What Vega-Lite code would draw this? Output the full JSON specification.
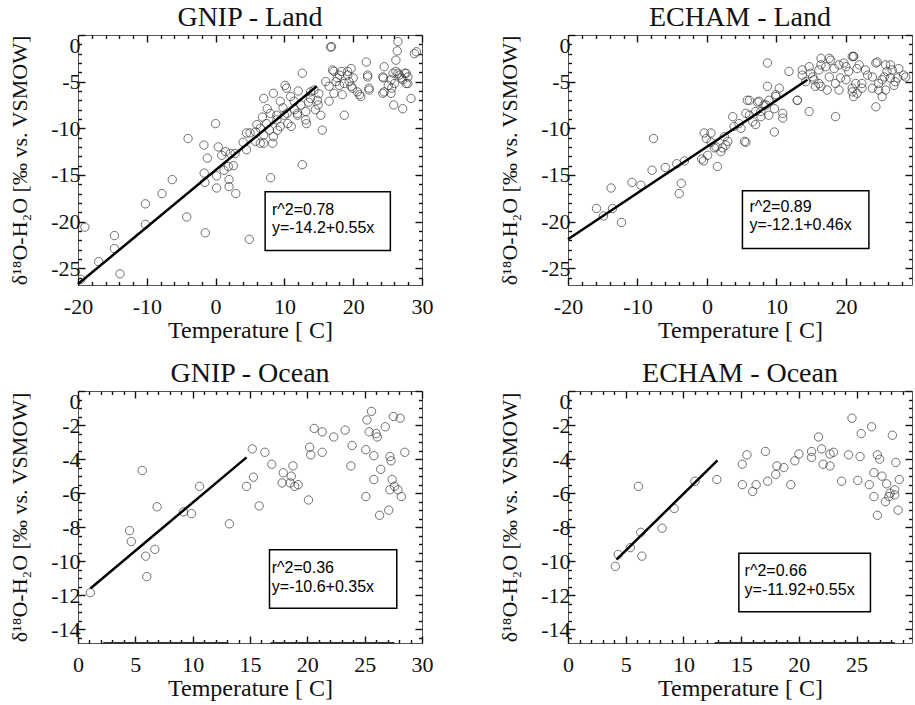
{
"$schema": "https://vega.github.io/schema/vega-lite/v6.json",
"padding": {"left": 7, "top": 3, "right": 0, "bottom": 0},
"background": "white",
"config": {
 "font": "Liberation Serif",
 "view": {"stroke": "#555", "strokeWidth": 1},
 "style": {"guide-label": {"font": "Liberation Serif", "fontSize": 22, "fill": "#111"}, "guide-title": {"font": "Liberation Serif", "fontSize": 22, "fill": "#111", "fontWeight": "normal"}},
 "axis": {"domain": false, "grid": false, "labelFont": "Liberation Serif", "labelFontSize": 22, "labelColor": "#111", "titleFont": "Liberation Serif", "titleFontSize": 22, "titleFontWeight": "normal", "titleColor": "#111", "tickColor": "#111", "tickWidth": 1.4},
 "axisBottom": {"titleFontSize": 24, "titleY": 45, "titleBaseline": "middle", "labelPadding": 18, "labelFlush": false},
 "axisLeft": {"titleX": -59, "titleBaseline": "middle", "labelPadding": 5, "labelFlush": true},
 "title": {"font": "Liberation Serif", "fontSize": 28, "fontWeight": "normal", "color": "#111", "frame": "group", "anchor": "middle", "offset": 2}
},
"bounds": "flush",
"columns": 2,
"spacing": {"row": 106, "column": 146},
"datasets": {
 "gnipLand": [
  {"T":-19.6,"d":-26.2},{"T":-19.0,"d":-20.6},{"T":-17.0,"d":-24.3},{"T":-14.7,"d":-21.5},{"T":-14.7,"d":-22.9},{"T":-13.9,"d":-25.6},{"T":-10.2,"d":-18.1},{"T":-10.2,"d":-20.3},{"T":-7.8,"d":-17.0},{"T":-6.3,"d":-15.5},{"T":-4.0,"d":-11.1},{"T":-4.2,"d":-19.5},{"T":-1.7,"d":-11.8},{"T":-1.2,"d":-13.2},{"T":-1.66,"d":-14.8},{"T":-1.56,"d":-15.8},{"T":-1.5,"d":-21.2},{"T":0.0,"d":-9.5},{"T":0.39,"d":-12.0},{"T":0.88,"d":-12.9},{"T":1.46,"d":-12.5},{"T":2.15,"d":-12.7},{"T":2.83,"d":-12.7},{"T":0.15,"d":-15.1},{"T":0.15,"d":-16.4},{"T":1.22,"d":-14.5},{"T":1.85,"d":-14.1},{"T":2.59,"d":-14.0},{"T":1.95,"d":-15.5},{"T":1.95,"d":-16.25},{"T":2.93,"d":-17.0},{"T":4.5,"d":-10.5},{"T":4.5,"d":-12.3},{"T":4.9,"d":-21.9},{"T":4.0,"d":-11.5},
  {"T":5.8,"d":-10.4},{"T":6.0,"d":-9.6},{"T":6.5,"d":-11.6},{"T":7.0,"d":-6.8},{"T":7.5,"d":-7.9},{"T":7.4,"d":-9.5},{"T":8.0,"d":-15.3},{"T":8.3,"d":-11.6},{"T":8.4,"d":-10.9},{"T":7.0,"d":-10.7},{"T":7.8,"d":-10.2},{"T":8.9,"d":-8.6},{"T":8.4,"d":-6.25},{"T":10.3,"d":-5.7},{"T":10.0,"d":-8.6},{"T":9.4,"d":-7.1},{"T":10.5,"d":-9.5},{"T":11.4,"d":-7.1},{"T":12.6,"d":-4.1},{"T":12.6,"d":-13.9},{"T":11.9,"d":-8.6},{"T":13.1,"d":-8.2},{"T":13.2,"d":-9.5},{"T":13.8,"d":-6.8},{"T":14.5,"d":-8.0},{"T":14.9,"d":-7.5},{"T":15.5,"d":-10.2},{"T":15.3,"d":-8.6},{"T":14.3,"d":-5.9},{"T":16.0,"d":-5.0},
  {"T":10.1,"d":-5.4},{"T":10.9,"d":-6.6},{"T":12.4,"d":-7.5},{"T":13.8,"d":-6.1},{"T":14.8,"d":-7.0},{"T":13.1,"d":-9.1},{"T":11.9,"d":-8.4},{"T":10.4,"d":-8.4},{"T":8.9,"d":-9.1},{"T":7.95,"d":-8.4},{"T":5.0,"d":-10.5},{"T":7.0,"d":-11.6},{"T":5.8,"d":-11.4},{"T":9.4,"d":-9.8},{"T":6.5,"d":-10.0},{"T":9.0,"d":-10.2},{"T":11.0,"d":-9.8},{"T":12.0,"d":-6.0},{"T":13.5,"d":-7.2},{"T":15.0,"d":-6.3},{"T":9.8,"d":-7.8},{"T":11.5,"d":-8.0},{"T":6.8,"d":-8.8},
  {"T":16.85,"d":-1.25},{"T":16.7,"d":-1.3},{"T":17.2,"d":-3.9},{"T":17.7,"d":-4.6},{"T":18.0,"d":-5.4},{"T":16.5,"d":-7.1},{"T":18.7,"d":-8.6},{"T":19.2,"d":-4.3},{"T":19.4,"d":-5.0},{"T":19.9,"d":-5.7},{"T":20.6,"d":-6.1},{"T":21.1,"d":-6.6},{"T":21.9,"d":-2.9},{"T":22.1,"d":-4.5},{"T":22.3,"d":-5.7},{"T":18.3,"d":-3.9},{"T":20.0,"d":-4.6},{"T":24.5,"d":-3.4},{"T":24.4,"d":-4.6},{"T":24.3,"d":-6.25},{"T":25.8,"d":-4.1},{"T":25.9,"d":-7.5},{"T":26.5,"d":-0.7},{"T":26.4,"d":-1.7},{"T":26.2,"d":-2.7},{"T":26.5,"d":-4.1},{"T":27.0,"d":-4.6},{"T":27.2,"d":-7.9},{"T":27.7,"d":-4.1},{"T":27.95,"d":-5.2},{"T":28.4,"d":-6.8},{"T":29.2,"d":-1.8},{"T":25.1,"d":-5.4},{"T":25.6,"d":-5.7},
  {"T":17.0,"d":-3.75},{"T":18.0,"d":-4.3},{"T":19.2,"d":-3.9},{"T":17.5,"d":-5.0},{"T":18.7,"d":-5.2},{"T":19.7,"d":-5.5},{"T":16.5,"d":-5.5},{"T":17.2,"d":-6.25},{"T":18.4,"d":-6.4},{"T":20.9,"d":-6.4},{"T":22.1,"d":-4.3},{"T":22.3,"d":-5.9},{"T":19.7,"d":-3.6},{"T":24.3,"d":-4.5},{"T":24.5,"d":-6.1},{"T":25.5,"d":-4.8},{"T":26.2,"d":-3.9},{"T":26.0,"d":-5.2},{"T":26.7,"d":-4.3},{"T":27.2,"d":-4.8},{"T":27.5,"d":-4.1},{"T":27.95,"d":-4.5},{"T":27.7,"d":-5.2},{"T":28.9,"d":-2.0},{"T":25.5,"d":-6.25}
 ],
 "gnipLandFit": [{"T":-20,"d":-26.7},{"T":14.7,"d":-5.5}],
 "gnipLandBox": [{"x1":7.2,"x2":25.4,"y1":-16.8,"y2":-23.1}],
 "gnipLandText": [{"T":8.2,"d":-18.75,"label":"r^2=0.78"},{"T":8.2,"d":-20.7,"label":"y=-14.2+0.55x"}],
 "echamLand": [
  {"T":-15.9,"d":-18.6},{"T":-14.9,"d":-19.4},{"T":-13.8,"d":-16.4},{"T":-13.6,"d":-18.6},{"T":-12.3,"d":-20.1},{"T":-10.8,"d":-15.8},{"T":-9.5,"d":-16.1},{"T":-7.7,"d":-11.1},{"T":-7.9,"d":-14.5},{"T":-6.0,"d":-14.2},{"T":-4.35,"d":-13.8},{"T":-3.7,"d":-15.9},{"T":-4.0,"d":-17.0},{"T":-3.25,"d":-13.5},{"T":-0.4,"d":-10.5},{"T":-0.1,"d":-11.1},{"T":-0.5,"d":-13.5},{"T":0.6,"d":-11.5},{"T":0.1,"d":-12.9},{"T":1.5,"d":-14.1},{"T":1.05,"d":-12.1},{"T":2.0,"d":-12.5},{"T":2.5,"d":-10.9},{"T":2.7,"d":-11.8},{"T":3.9,"d":-9.8},{"T":3.7,"d":-8.75},{"T":4.9,"d":-10.0},{"T":5.6,"d":-11.5},{"T":5.8,"d":-7.0},{"T":6.1,"d":-8.6},{"T":7.0,"d":-9.6},{"T":7.3,"d":-7.2},{"T":7.75,"d":-8.2},{"T":8.5,"d":-7.5},{"T":8.7,"d":-5.5},{"T":8.7,"d":-3.0},{"T":8.9,"d":-8.6},{"T":9.7,"d":-10.4},{"T":10.4,"d":-5.7},{"T":9.9,"d":-6.6},{"T":10.9,"d":-8.9},{"T":11.8,"d":-3.9},{"T":13.0,"d":-7.0},{"T":14.7,"d":-8.2},{"T":13.7,"d":-3.75},{"T":14.9,"d":-4.1},{"T":15.4,"d":-4.8},{"T":16.4,"d":-3.2},{"T":16.4,"d":-5.5},{"T":17.6,"d":-2.5},{"T":18.3,"d":-3.6},{"T":18.5,"d":-8.75},{"T":19.2,"d":-4.6},{"T":19.7,"d":-3.0},{"T":20.9,"d":-2.3},{"T":21.1,"d":-2.3},
  {"T":21.9,"d":-3.2},{"T":22.3,"d":-5.2},{"T":20.9,"d":-5.7},{"T":21.6,"d":-6.25},{"T":23.1,"d":-4.3},{"T":24.7,"d":-5.9},{"T":25.2,"d":-4.8},{"T":24.5,"d":-2.9},{"T":25.9,"d":-3.9},{"T":26.4,"d":-3.2},{"T":27.4,"d":-4.6},{"T":28.3,"d":-4.3},{"T":26.9,"d":-5.4},
  {"T":16.4,"d":-2.5},{"T":17.8,"d":-2.7},{"T":21.1,"d":-2.3},{"T":14.7,"d":-3.4},{"T":13.7,"d":-4.3},{"T":15.2,"d":-4.5},{"T":16.1,"d":-3.75},{"T":17.1,"d":-3.4},{"T":19.0,"d":-3.2},{"T":20.0,"d":-3.4},{"T":20.4,"d":-3.9},{"T":21.6,"d":-3.6},{"T":22.8,"d":-3.75},{"T":24.3,"d":-3.0},{"T":25.7,"d":-3.2},{"T":26.65,"d":-3.75},{"T":27.6,"d":-3.6},{"T":28.6,"d":-4.5},{"T":25.5,"d":-4.5},{"T":26.4,"d":-4.6},{"T":27.1,"d":-5.0},{"T":23.8,"d":-4.5},{"T":24.7,"d":-5.2},{"T":23.8,"d":-5.7},{"T":25.7,"d":-5.9},{"T":22.3,"d":-5.7},{"T":21.1,"d":-6.6},{"T":25.2,"d":-6.6},{"T":24.3,"d":-7.7},{"T":13.0,"d":-7.0},{"T":17.6,"d":-4.5},{"T":18.5,"d":-5.2},{"T":20.0,"d":-4.8},{"T":21.4,"d":-5.2},{"T":16.1,"d":-5.2},{"T":14.2,"d":-5.0},{"T":15.6,"d":-5.5},{"T":17.3,"d":-5.9},{"T":19.0,"d":-5.9},{"T":20.9,"d":-6.1},{"T":9.9,"d":-6.4},{"T":8.9,"d":-7.0},{"T":7.5,"d":-7.1},{"T":6.1,"d":-7.0},{"T":8.2,"d":-7.5},{"T":7.0,"d":-8.2},{"T":5.6,"d":-8.4},{"T":7.75,"d":-8.75},{"T":6.6,"d":-9.3},{"T":5.4,"d":-11.4},{"T":10.9,"d":-8.4},{"T":9.7,"d":-7.9},
  {"T":0.57,"d":-10.5},{"T":1.3,"d":-12.0},{"T":2.25,"d":-12.1},{"T":-0.77,"d":-13.3},{"T":4.6,"d":-9.5},{"T":3.0,"d":-11.4}
 ],
 "echamLandFit": [{"T":-20,"d":-21.9},{"T":14.45,"d":-4.8}],
 "echamLandBox": [{"x1":5.1,"x2":23.3,"y1":-16.7,"y2":-22.9}],
 "echamLandText": [{"T":6.1,"d":-18.4,"label":"r^2=0.89"},{"T":6.1,"d":-20.4,"label":"y=-12.1+0.46x"}],
 "gnipOcean": [
  {"T":1.08,"d":-11.84},{"T":4.5,"d":-8.2},{"T":4.65,"d":-8.84},{"T":5.6,"d":-4.67},{"T":5.9,"d":-9.7},{"T":6.7,"d":-9.3},{"T":6.0,"d":-10.9},{"T":6.9,"d":-6.8},{"T":9.2,"d":-7.1},{"T":9.9,"d":-7.2},{"T":10.6,"d":-5.6},{"T":13.2,"d":-7.8},{"T":14.7,"d":-5.6},{"T":15.3,"d":-5.06},{"T":15.2,"d":-3.4},{"T":16.3,"d":-3.6},{"T":15.8,"d":-6.75},{"T":16.9,"d":-4.3},{"T":17.9,"d":-4.8},{"T":17.8,"d":-5.4},{"T":18.6,"d":-5.0},{"T":18.75,"d":-4.4},{"T":18.5,"d":-5.4},{"T":19.2,"d":-5.5},{"T":18.9,"d":-5.6},{"T":20.1,"d":-6.4},{"T":20.2,"d":-3.3},{"T":20.3,"d":-3.75},{"T":20.6,"d":-2.2},{"T":21.3,"d":-2.4},{"T":21.3,"d":-3.6},{"T":22.3,"d":-2.7},{"T":23.3,"d":-2.3},{"T":23.9,"d":-3.2},{"T":23.8,"d":-4.4},{"T":25.1,"d":-6.2},{"T":25.2,"d":-1.7},{"T":25.6,"d":-1.2},{"T":25.4,"d":-2.4},{"T":25.1,"d":-3.45},{"T":25.8,"d":-3.8},{"T":26.0,"d":-2.5},{"T":26.1,"d":-2.7},{"T":26.3,"d":-7.3},{"T":26.4,"d":-4.6},{"T":26.8,"d":-2.1},{"T":27.1,"d":-7.0},{"T":27.2,"d":-3.85},{"T":27.3,"d":-4.1},{"T":27.5,"d":-1.5},{"T":27.4,"d":-5.2},{"T":27.2,"d":-5.8},{"T":27.9,"d":-5.8},{"T":28.2,"d":-6.2},{"T":28.1,"d":-1.6},{"T":28.5,"d":-3.6},{"T":25.8,"d":-5.2},{"T":27.6,"d":-5.6}
 ],
 "gnipOceanFit": [{"T":1.08,"d":-11.6},{"T":14.7,"d":-3.9}],
 "gnipOceanBox": [{"x1":16.7,"x2":27.8,"y1":-9.33,"y2":-12.76}],
 "gnipOceanText": [{"T":16.9,"d":-10.4,"label":"r^2=0.36"},{"T":16.9,"d":-11.5,"label":"y=-10.6+0.35x"}],
 "gnipOceanAxisMarks": [{"T1":2.2,"T2":13.1,"d":-14.8},{"T1":16.8,"T2":27.6,"d":-14.8}],
 "echamOcean": [
  {"T":4.1,"d":-10.3},{"T":4.35,"d":-9.6},{"T":5.4,"d":-9.2},{"T":6.4,"d":-9.7},{"T":6.3,"d":-8.3},{"T":6.1,"d":-5.6},{"T":8.15,"d":-8.06},{"T":9.2,"d":-6.9},{"T":11.0,"d":-5.3},{"T":12.9,"d":-5.2},{"T":15.1,"d":-4.3},{"T":15.5,"d":-3.75},{"T":15.1,"d":-5.5},{"T":16.0,"d":-5.9},{"T":16.3,"d":-5.5},{"T":17.1,"d":-3.55},{"T":17.3,"d":-5.3},{"T":18.0,"d":-4.9},{"T":18.1,"d":-4.4},{"T":18.7,"d":-4.5},{"T":19.3,"d":-5.5},{"T":19.65,"d":-4.1},{"T":20.0,"d":-3.7},{"T":21.1,"d":-3.55},{"T":21.1,"d":-3.9},{"T":21.7,"d":-2.7},{"T":21.97,"d":-3.4},{"T":22.1,"d":-4.3},{"T":22.7,"d":-4.4},{"T":22.7,"d":-3.7},{"T":23.0,"d":-3.6},{"T":23.7,"d":-5.3},{"T":24.3,"d":-3.75},{"T":24.6,"d":-1.6},{"T":25.1,"d":-5.25},{"T":25.3,"d":-3.85},{"T":25.4,"d":-2.5},{"T":26.1,"d":-5.5},{"T":26.3,"d":-2.1},{"T":26.5,"d":-4.8},{"T":26.5,"d":-6.2},{"T":26.8,"d":-7.3},{"T":26.8,"d":-3.75},{"T":27.0,"d":-4.0},{"T":27.2,"d":-5.0},{"T":27.5,"d":-6.5},{"T":27.6,"d":-5.45},{"T":27.8,"d":-6.2},{"T":28.1,"d":-2.6},{"T":28.3,"d":-5.8},{"T":28.4,"d":-4.2},{"T":28.6,"d":-7.0},{"T":28.7,"d":-5.2},{"T":28.3,"d":-6.1},{"T":27.9,"d":-6.0}
 ],
 "echamOceanFit": [{"T":4.2,"d":-9.9},{"T":12.95,"d":-4.08}],
 "echamOceanBox": [{"x1":14.8,"x2":26.2,"y1":-9.53,"y2":-12.96}],
 "echamOceanText": [{"T":15.3,"d":-10.57,"label":"r^2=0.66"},{"T":15.3,"d":-11.7,"label":"y=-11.92+0.55x"}],
 "echamOceanAxisMarks": [{"T1":12.7,"T2":28.3,"d":-14.8}]
},
"concat": [
 {
  "width": 344, "height": 250,
  "title": {"text": "GNIP - Land"},
  "resolve": {"axis": {"x": "independent", "y": "independent"}},
  "layer": [
   {"data": {"name": "gnipLand"}, "mark": {"type": "point", "shape": "circle", "size": 70, "filled": false, "stroke": "#333", "strokeWidth": 1, "clip": true},
    "encoding": {
     "x": {"field": "T", "type": "quantitative", "scale": {"domain": [-20, 30], "nice": false, "zero": false},
      "axis": {"orient": "bottom", "labelFont": "Liberation Serif", "values": [-20,-18,-16,-14,-12,-10,-8,-6,-4,-2,0,2,4,6,8,10,12,14,16,18,20,22,24,26,28,30], "labelExpr": "datum.value % 10 === 0 ? '' + datum.value : ''", "tickSize": {"condition": {"test": "datum.value % 10 === 0", "value": -7}, "value": -3.5}, "title": "Temperature [   C]"}},
     "y": {"field": "d", "type": "quantitative", "scale": {"domain": [-26.8, 0], "nice": false, "zero": false},
      "axis": {"orient": "left", "labelFont": "Liberation Serif", "values": [-26,-25,-24,-23,-22,-21,-20,-19,-18,-17,-16,-15,-14,-13,-12,-11,-10,-9,-8,-7,-6,-5,-4,-3,-2,-1,0], "labelExpr": "datum.value % 5 === 0 ? '' + datum.value : ''", "tickSize": {"condition": {"test": "datum.value % 5 === 0", "value": -7}, "value": -3.5}, "title": "δ¹⁸O-H₂O [‰ vs. VSMOW]"}}
    }},
   {"data": {"name": "gnipLandFit"}, "mark": {"type": "line", "color": "black", "strokeWidth": 2.5},
    "encoding": {
     "x": {"field": "T", "type": "quantitative", "scale": {"domain": [-20, 30], "nice": false, "zero": false},
      "axis": {"orient": "top", "values": [-20,-18,-16,-14,-12,-10,-8,-6,-4,-2,0,2,4,6,8,10,12,14,16,18,20,22,24,26,28,30], "labels": false, "tickSize": {"condition": {"test": "datum.value % 10 === 0", "value": -7}, "value": -3.5}, "title": null}},
     "y": {"field": "d", "type": "quantitative", "scale": {"domain": [-26.8, 0], "nice": false, "zero": false},
      "axis": {"orient": "right", "values": [-26,-25,-24,-23,-22,-21,-20,-19,-18,-17,-16,-15,-14,-13,-12,-11,-10,-9,-8,-7,-6,-5,-4,-3,-2,-1,0], "labels": false, "tickSize": {"condition": {"test": "datum.value % 5 === 0", "value": -7}, "value": -3.5}, "title": null}}
    }},
   {"data": {"name": "gnipLandBox"}, "mark": {"type": "rect", "fill": "white", "stroke": "black", "strokeWidth": 1.5},
    "encoding": {
     "x": {"field": "x1", "type": "quantitative", "scale": {"domain": [-20, 30], "nice": false, "zero": false}, "axis": null},
     "x2": {"field": "x2"},
     "y": {"field": "y1", "type": "quantitative", "scale": {"domain": [-26.8, 0], "nice": false, "zero": false}, "axis": null},
     "y2": {"field": "y2"}
    }},
   {"data": {"name": "gnipLandText"}, "mark": {"type": "text", "align": "left", "baseline": "middle", "font": "Liberation Sans", "fontSize": 16, "color": "black"},
    "encoding": {
     "x": {"field": "T", "type": "quantitative", "scale": {"domain": [-20, 30], "nice": false, "zero": false}, "axis": null},
     "y": {"field": "d", "type": "quantitative", "scale": {"domain": [-26.8, 0], "nice": false, "zero": false}, "axis": null},
     "text": {"field": "label"}
    }}
  ]
 },
 {
  "width": 344, "height": 250,
  "title": {"text": "ECHAM - Land"},
  "resolve": {"axis": {"x": "independent", "y": "independent"}},
  "layer": [
   {"data": {"name": "echamLand"}, "mark": {"type": "point", "shape": "circle", "size": 70, "filled": false, "stroke": "#333", "strokeWidth": 1, "clip": true},
    "encoding": {
     "x": {"field": "T", "type": "quantitative", "scale": {"domain": [-20, 29.5], "nice": false, "zero": false},
      "axis": {"orient": "bottom", "labelFont": "Liberation Serif", "values": [-20,-18,-16,-14,-12,-10,-8,-6,-4,-2,0,2,4,6,8,10,12,14,16,18,20,22,24,26,28], "labelExpr": "datum.value % 10 === 0 ? '' + datum.value : ''", "tickSize": {"condition": {"test": "datum.value % 10 === 0", "value": -7}, "value": -3.5}, "title": "Temperature [   C]"}},
     "y": {"field": "d", "type": "quantitative", "scale": {"domain": [-26.8, 0], "nice": false, "zero": false},
      "axis": {"orient": "left", "labelFont": "Liberation Serif", "values": [-26,-25,-24,-23,-22,-21,-20,-19,-18,-17,-16,-15,-14,-13,-12,-11,-10,-9,-8,-7,-6,-5,-4,-3,-2,-1,0], "labelExpr": "datum.value % 5 === 0 ? '' + datum.value : ''", "tickSize": {"condition": {"test": "datum.value % 5 === 0", "value": -7}, "value": -3.5}, "title": "δ¹⁸O-H₂O [‰ vs. VSMOW]"}}
    }},
   {"data": {"name": "echamLandFit"}, "mark": {"type": "line", "color": "black", "strokeWidth": 2.5},
    "encoding": {
     "x": {"field": "T", "type": "quantitative", "scale": {"domain": [-20, 29.5], "nice": false, "zero": false},
      "axis": {"orient": "top", "values": [-20,-18,-16,-14,-12,-10,-8,-6,-4,-2,0,2,4,6,8,10,12,14,16,18,20,22,24,26,28], "labels": false, "tickSize": {"condition": {"test": "datum.value % 10 === 0", "value": -7}, "value": -3.5}, "title": null}},
     "y": {"field": "d", "type": "quantitative", "scale": {"domain": [-26.8, 0], "nice": false, "zero": false},
      "axis": {"orient": "right", "values": [-26,-25,-24,-23,-22,-21,-20,-19,-18,-17,-16,-15,-14,-13,-12,-11,-10,-9,-8,-7,-6,-5,-4,-3,-2,-1,0], "labels": false, "tickSize": {"condition": {"test": "datum.value % 5 === 0", "value": -7}, "value": -3.5}, "title": null}}
    }},
   {"data": {"name": "echamLandBox"}, "mark": {"type": "rect", "fill": "white", "stroke": "black", "strokeWidth": 1.5},
    "encoding": {
     "x": {"field": "x1", "type": "quantitative", "scale": {"domain": [-20, 29.5], "nice": false, "zero": false}, "axis": null},
     "x2": {"field": "x2"},
     "y": {"field": "y1", "type": "quantitative", "scale": {"domain": [-26.8, 0], "nice": false, "zero": false}, "axis": null},
     "y2": {"field": "y2"}
    }},
   {"data": {"name": "echamLandText"}, "mark": {"type": "text", "align": "left", "baseline": "middle", "font": "Liberation Sans", "fontSize": 16, "color": "black"},
    "encoding": {
     "x": {"field": "T", "type": "quantitative", "scale": {"domain": [-20, 29.5], "nice": false, "zero": false}, "axis": null},
     "y": {"field": "d", "type": "quantitative", "scale": {"domain": [-26.8, 0], "nice": false, "zero": false}, "axis": null},
     "text": {"field": "label"}
    }}
  ]
 },
 {
  "width": 344, "height": 252,
  "title": {"text": "GNIP - Ocean"},
  "resolve": {"axis": {"x": "independent", "y": "independent"}},
  "layer": [
   {"data": {"name": "gnipOcean"}, "mark": {"type": "point", "shape": "circle", "size": 70, "filled": false, "stroke": "#333", "strokeWidth": 1, "clip": true},
    "encoding": {
     "x": {"field": "T", "type": "quantitative", "scale": {"domain": [0, 30], "nice": false, "zero": false},
      "axis": {"orient": "bottom", "labelFont": "Liberation Serif", "values": [0,1,2,3,4,5,6,7,8,9,10,11,12,13,14,15,16,17,18,19,20,21,22,23,24,25,26,27,28,29,30], "labelExpr": "datum.value % 5 === 0 ? '' + datum.value : ''", "tickSize": {"condition": {"test": "datum.value % 5 === 0", "value": -7}, "value": -3.5}, "title": "Temperature [   C]"}},
     "y": {"field": "d", "type": "quantitative", "scale": {"domain": [-14.8, 0], "nice": false, "zero": false},
      "axis": {"orient": "left", "labelFont": "Liberation Serif", "values": [-14.5,-14,-13.5,-13,-12.5,-12,-11.5,-11,-10.5,-10,-9.5,-9,-8.5,-8,-7.5,-7,-6.5,-6,-5.5,-5,-4.5,-4,-3.5,-3,-2.5,-2,-1.5,-1,-0.5,0], "labelExpr": "datum.value % 2 === 0 ? '' + datum.value : ''", "tickSize": {"condition": {"test": "datum.value % 2 === 0", "value": -7}, "value": -3.5}, "title": "δ¹⁸O-H₂O [‰ vs. VSMOW]"}}
    }},
   {"data": {"name": "gnipOceanFit"}, "mark": {"type": "line", "color": "black", "strokeWidth": 2.5},
    "encoding": {
     "x": {"field": "T", "type": "quantitative", "scale": {"domain": [0, 30], "nice": false, "zero": false},
      "axis": {"orient": "top", "values": [0,1,2,3,4,5,6,7,8,9,10,11,12,13,14,15,16,17,18,19,20,21,22,23,24,25,26,27,28,29,30], "labels": false, "tickSize": {"condition": {"test": "datum.value % 5 === 0", "value": -7}, "value": -3.5}, "title": null}},
     "y": {"field": "d", "type": "quantitative", "scale": {"domain": [-14.8, 0], "nice": false, "zero": false},
      "axis": {"orient": "right", "values": [-14.5,-14,-13.5,-13,-12.5,-12,-11.5,-11,-10.5,-10,-9.5,-9,-8.5,-8,-7.5,-7,-6.5,-6,-5.5,-5,-4.5,-4,-3.5,-3,-2.5,-2,-1.5,-1,-0.5,0], "labels": false, "tickSize": {"condition": {"test": "datum.value % 2 === 0", "value": -7}, "value": -3.5}, "title": null}}
    }},
   {"data": {"name": "gnipOceanAxisMarks"}, "mark": {"type": "rule", "color": "#333", "strokeWidth": 1.8},
    "encoding": {
     "x": {"field": "T1", "type": "quantitative", "scale": {"domain": [0, 30], "nice": false, "zero": false}, "axis": null},
     "x2": {"field": "T2"},
     "y": {"field": "d", "type": "quantitative", "scale": {"domain": [-14.8, 0], "nice": false, "zero": false}, "axis": null}
    }},
   {"data": {"name": "gnipOceanBox"}, "mark": {"type": "rect", "fill": "white", "stroke": "black", "strokeWidth": 1.5},
    "encoding": {
     "x": {"field": "x1", "type": "quantitative", "scale": {"domain": [0, 30], "nice": false, "zero": false}, "axis": null},
     "x2": {"field": "x2"},
     "y": {"field": "y1", "type": "quantitative", "scale": {"domain": [-14.8, 0], "nice": false, "zero": false}, "axis": null},
     "y2": {"field": "y2"}
    }},
   {"data": {"name": "gnipOceanText"}, "mark": {"type": "text", "align": "left", "baseline": "middle", "font": "Liberation Sans", "fontSize": 16, "color": "black"},
    "encoding": {
     "x": {"field": "T", "type": "quantitative", "scale": {"domain": [0, 30], "nice": false, "zero": false}, "axis": null},
     "y": {"field": "d", "type": "quantitative", "scale": {"domain": [-14.8, 0], "nice": false, "zero": false}, "axis": null},
     "text": {"field": "label"}
    }}
  ]
 },
 {
  "width": 344, "height": 252,
  "title": {"text": "ECHAM - Ocean"},
  "resolve": {"axis": {"x": "independent", "y": "independent"}},
  "layer": [
   {"data": {"name": "echamOcean"}, "mark": {"type": "point", "shape": "circle", "size": 70, "filled": false, "stroke": "#333", "strokeWidth": 1, "clip": true},
    "encoding": {
     "x": {"field": "T", "type": "quantitative", "scale": {"domain": [0, 29.8], "nice": false, "zero": false},
      "axis": {"orient": "bottom", "labelFont": "Liberation Serif", "values": [0,1,2,3,4,5,6,7,8,9,10,11,12,13,14,15,16,17,18,19,20,21,22,23,24,25,26,27,28,29], "labelExpr": "datum.value % 5 === 0 ? '' + datum.value : ''", "tickSize": {"condition": {"test": "datum.value % 5 === 0", "value": -7}, "value": -3.5}, "title": "Temperature [   C]"}},
     "y": {"field": "d", "type": "quantitative", "scale": {"domain": [-14.8, 0], "nice": false, "zero": false},
      "axis": {"orient": "left", "labelFont": "Liberation Serif", "values": [-14.5,-14,-13.5,-13,-12.5,-12,-11.5,-11,-10.5,-10,-9.5,-9,-8.5,-8,-7.5,-7,-6.5,-6,-5.5,-5,-4.5,-4,-3.5,-3,-2.5,-2,-1.5,-1,-0.5,0], "labelExpr": "datum.value % 2 === 0 ? '' + datum.value : ''", "tickSize": {"condition": {"test": "datum.value % 2 === 0", "value": -7}, "value": -3.5}, "title": "δ¹⁸O-H₂O [‰ vs. VSMOW]"}}
    }},
   {"data": {"name": "echamOceanFit"}, "mark": {"type": "line", "color": "black", "strokeWidth": 2.5},
    "encoding": {
     "x": {"field": "T", "type": "quantitative", "scale": {"domain": [0, 29.8], "nice": false, "zero": false},
      "axis": {"orient": "top", "values": [0,1,2,3,4,5,6,7,8,9,10,11,12,13,14,15,16,17,18,19,20,21,22,23,24,25,26,27,28,29], "labels": false, "tickSize": {"condition": {"test": "datum.value % 5 === 0", "value": -7}, "value": -3.5}, "title": null}},
     "y": {"field": "d", "type": "quantitative", "scale": {"domain": [-14.8, 0], "nice": false, "zero": false},
      "axis": {"orient": "right", "values": [-14.5,-14,-13.5,-13,-12.5,-12,-11.5,-11,-10.5,-10,-9.5,-9,-8.5,-8,-7.5,-7,-6.5,-6,-5.5,-5,-4.5,-4,-3.5,-3,-2.5,-2,-1.5,-1,-0.5,0], "labels": false, "tickSize": {"condition": {"test": "datum.value % 2 === 0", "value": -7}, "value": -3.5}, "title": null}}
    }},
   {"data": {"name": "echamOceanAxisMarks"}, "mark": {"type": "rule", "color": "#333", "strokeWidth": 1.8},
    "encoding": {
     "x": {"field": "T1", "type": "quantitative", "scale": {"domain": [0, 29.8], "nice": false, "zero": false}, "axis": null},
     "x2": {"field": "T2"},
     "y": {"field": "d", "type": "quantitative", "scale": {"domain": [-14.8, 0], "nice": false, "zero": false}, "axis": null}
    }},
   {"data": {"name": "echamOceanBox"}, "mark": {"type": "rect", "fill": "white", "stroke": "black", "strokeWidth": 1.5},
    "encoding": {
     "x": {"field": "x1", "type": "quantitative", "scale": {"domain": [0, 29.8], "nice": false, "zero": false}, "axis": null},
     "x2": {"field": "x2"},
     "y": {"field": "y1", "type": "quantitative", "scale": {"domain": [-14.8, 0], "nice": false, "zero": false}, "axis": null},
     "y2": {"field": "y2"}
    }},
   {"data": {"name": "echamOceanText"}, "mark": {"type": "text", "align": "left", "baseline": "middle", "font": "Liberation Sans", "fontSize": 16, "color": "black"},
    "encoding": {
     "x": {"field": "T", "type": "quantitative", "scale": {"domain": [0, 29.8], "nice": false, "zero": false}, "axis": null},
     "y": {"field": "d", "type": "quantitative", "scale": {"domain": [-14.8, 0], "nice": false, "zero": false}, "axis": null},
     "text": {"field": "label"}
    }}
  ]
 }
]
}
